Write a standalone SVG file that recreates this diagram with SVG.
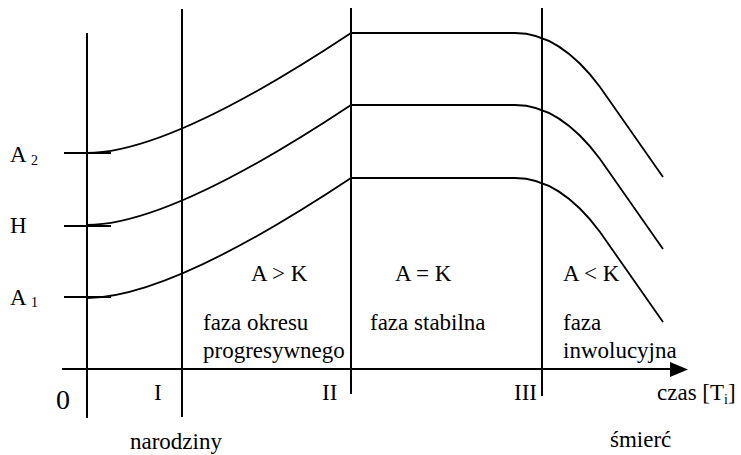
<svg xmlns="http://www.w3.org/2000/svg" width="741" height="455" viewBox="0 0 741 455">
<style>
.ax{stroke:#000;stroke-width:2;fill:none}
.cv{stroke:#000;stroke-width:1.8;fill:none}
text{font-family:"Liberation Serif","Times New Roman",serif;fill:#000;font-size:23px}
.sub{font-size:14px}
</style>
<defs>
<path id="curve" d="M87,153 C150,153 250,100 351,33 L515,33 Q560,33 600,87 L663,177"/>
</defs>
<rect width="741" height="455" fill="#fff"/>
<g id="axes">
<line class="ax" x1="87" y1="33" x2="87" y2="418"/>
<line class="ax" x1="182" y1="9" x2="182" y2="417"/>
<line class="ax" x1="351" y1="8" x2="351" y2="394"/>
<line class="ax" x1="542" y1="8" x2="542" y2="396"/>
<line class="ax" x1="62" y1="369" x2="674" y2="369"/>
<polygon points="670,362 688,369.5 670,377" fill="#000"/>
<line class="ax" x1="64" y1="153" x2="111" y2="153"/>
<line class="ax" x1="64" y1="226" x2="111" y2="226"/>
<line class="ax" x1="64" y1="297" x2="111" y2="297"/>
</g>
<g id="curves">
<use href="#curve" class="cv"/>
<use href="#curve" class="cv" transform="translate(0,72)"/>
<use href="#curve" class="cv" transform="translate(0,145)"/>
</g>
<g id="labels">
<text x="10" y="162">A <tspan class="sub" dy="3">2</tspan></text>
<text x="10" y="233">H</text>
<text x="10" y="305">A <tspan class="sub" dy="2">1</tspan></text>
<text x="251" y="281">A &gt; K</text>
<text x="395" y="281">A = K</text>
<text x="563" y="281">A &lt; K</text>
<text x="203" y="330">faza okresu</text>
<text x="203" y="358">progresywnego</text>
<text x="370" y="330">faza stabilna</text>
<text x="563" y="330">faza</text>
<text x="563" y="358">inwolucyjna</text>
<text x="56" y="409" style="font-size:28px">0</text>
<text x="154" y="400">I</text>
<text x="322" y="400">II</text>
<text x="514" y="400">III</text>
<text x="657" y="400">czas [T<tspan class="sub" dy="4">i</tspan><tspan dy="-4">]</tspan></text>
<text x="130" y="449">narodziny</text>
<text x="610" y="447">śmierć</text>
</g>
</svg>
